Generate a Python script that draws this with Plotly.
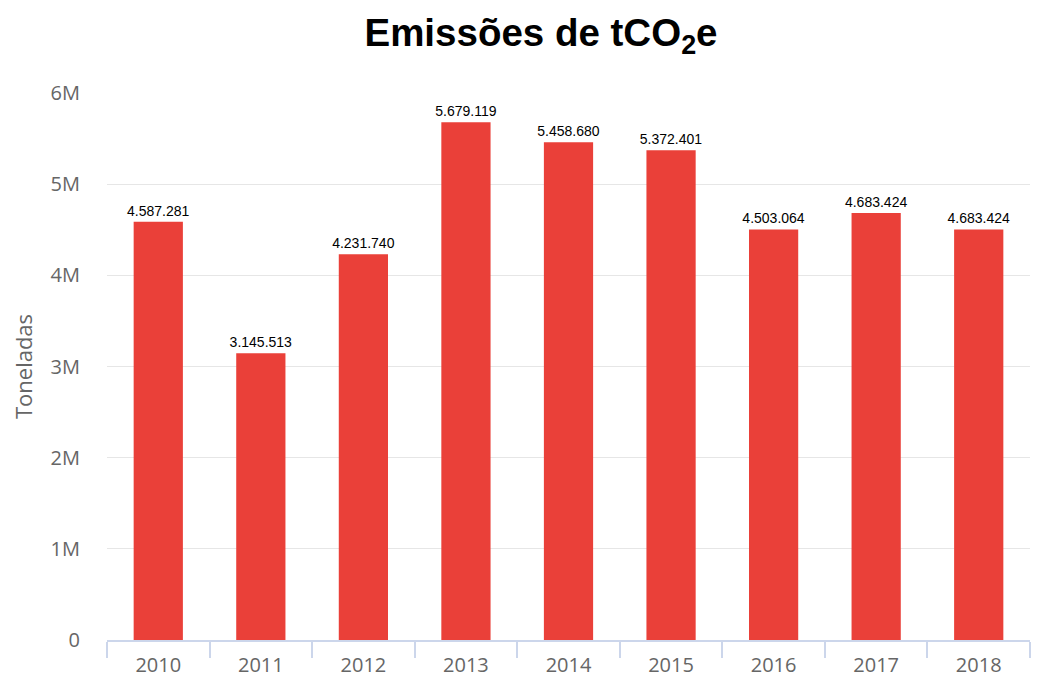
import plotly.graph_objects as go

years = ["2010", "2011", "2012", "2013", "2014", "2015", "2016", "2017", "2018"]
values = [4587281, 3145513, 4231740, 5679119, 5458680, 5372401, 4503064, 4683424, 4503064]
labels = ["4.587.281", "3.145.513", "4.231.740", "5.679.119", "5.458.680",
          "5.372.401", "4.503.064", "4.683.424", "4.683.424"]
tick_vals = [0, 1e6, 2e6, 3e6, 4e6, 5e6, 6e6]
tick_text = ["0", "1M", "2M", "3M", "4M", "5M", "6M"]

fig = go.Figure(go.Bar(
    x=years, y=values, text=labels, textposition="outside",
    constraintext="none",
    textfont=dict(family="Liberation Sans, Arial", size=14, color="#000000"),
    marker=dict(color="#EA4039", line=dict(width=0)),
    cliponaxis=False, hoverinfo="skip",
))

fig.update_layout(
    width=1039, height=671,
    margin=dict(l=99, r=17, t=85, b=39, autoexpand=False),
    paper_bgcolor="white", plot_bgcolor="white",
    bargap=0.52,
    showlegend=False,
    title=dict(text="<b>Emissões de tCO<sub>2</sub>e</b>", x=0.513, xanchor="center",
               y=0.963, yanchor="middle",
               font=dict(family="Liberation Sans, Arial", size=38.5, color="#000000")),
    xaxis=dict(
        type="category", tickson="boundaries", ticks="outside", ticklen=16,
        tickcolor="#ccd6eb", tickwidth=1.5, automargin=False,
        showline=True, linecolor="#ccd6eb", linewidth=1.5,
        tickfont=dict(family="Open Sans", size=20, color="#666666"),
        ticklabelstandoff=6,
        showgrid=False,
    ),
    yaxis=dict(
        range=[0, 6e6], tickvals=tick_vals, ticktext=tick_text,
        showgrid=True, gridcolor="#e6e6e6", gridwidth=1, zeroline=False,
        tickfont=dict(family="Open Sans", size=20, color="#666666"),
        ticks="", ticklabelstandoff=26, automargin=False,
        title=dict(text="Toneladas", standoff=17,
                   font=dict(family="Open Sans", size=22, color="#666666")),
    ),
)

fig.write_html("out.html")
